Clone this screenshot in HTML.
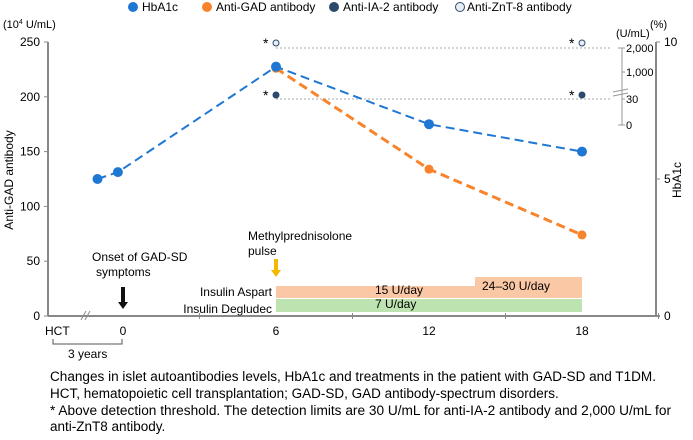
<!DOCTYPE html>
<html><head><meta charset="utf-8"><style>
body{margin:0;background:#fff;font-family:"Liberation Sans",sans-serif;}
svg text{font-family:"Liberation Sans",sans-serif;}
</style></head><body>
<svg width="693" height="435" xmlns="http://www.w3.org/2000/svg" id="c">
<g font-size="12">
 <circle cx="133" cy="7" r="5" fill="#1f77d4"/><text x="142" y="11">HbA1c</text>
 <circle cx="207" cy="7" r="5" fill="#f7842c"/><text x="216" y="11">Anti-GAD antibody</text>
 <circle cx="334" cy="7" r="5" fill="#2b4a6b"/><text x="343" y="11">Anti-IA-2 antibody</text>
 <circle cx="460" cy="7" r="4.5" fill="#e8ecf5" stroke="#2b4a6b"/><text x="467" y="11">Anti-ZnT-8 antibody</text>
</g>
<text x="3" y="28" font-size="11">(10<tspan font-size="7" dy="-4">4</tspan><tspan dy="4"> U/mL)</tspan></text>
<text x="650" y="28" font-size="11">(%)</text>
<text transform="translate(13,180) rotate(-90)" text-anchor="middle" font-size="12">Anti-GAD antibody</text>
<text transform="translate(681,180) rotate(-90)" text-anchor="middle" font-size="12">HbA1c</text>
<g id="axes"></g>
<g id="marks"></g>
<g font-size="13.5">
<text x="50" y="381" textLength="606" lengthAdjust="spacingAndGlyphs">Changes in islet autoantibodies levels, HbA1c and treatments in the patient with GAD-SD and T1DM.</text>
<text x="50" y="398">HCT, hematopoietic cell transplantation; GAD-SD, GAD antibody-spectrum disorders.</text>
<text x="50" y="415" textLength="621" lengthAdjust="spacingAndGlyphs">* Above detection threshold. The detection limits are 30 U/mL for anti-IA-2 antibody and 2,000 U/mL for</text>
<text x="50" y="431">anti-ZnT8 antibody.</text>
</g>
</svg>
<script>
const hbMonths=[-1,-0.2,6,12,18];
const hbValues=[5.0,5.25,9.1,7.0,6.0];
const gadMonths=[6,12,18];
const gadValues=[226,134,74];
const iaMonths=[6,18];
const znMonths=[6,18];
const leftTicks=[0,50,100,150,200,250];
const rightTicks=[0,5,10];
const xTicks=[0,6,12,18];
const smallTicks=[["0",0],["30",1],["1,000",2],["2,000",3]];
const NS="http://www.w3.org/2000/svg";
const X=m=>123+m*25.5, Y=v=>316-v*1.096, Y2=v=>316-v*27.4, YS=i=>125-[0,26,53,77][i];
function mk(p,tag,a){const e=document.createElementNS(NS,tag);for(const k in a)e.setAttribute(k,a[k]);p.appendChild(e);return e;}
const ax=document.getElementById('axes'), mg=document.getElementById('marks');
let e;
e=mk(ax,'line',{x1:48,y1:42,x2:48,y2:316,stroke:'#888','stroke-width':2});


e=mk(ax,'line',{x1:656,y1:42,x2:656,y2:316,stroke:'#888','stroke-width':2});


e=mk(ax,'line',{x1:48,y1:316,x2:660,y2:316,stroke:'#888','stroke-width':2});


mk(ax,'line',{x1:81,y1:320,x2:86,y2:311,stroke:'#888'});mk(ax,'line',{x1:85,y1:320,x2:90,y2:311,stroke:'#888'});
leftTicks.forEach(v=>{mk(ax,'line',{x1:44,y1:Y(v),x2:48,y2:Y(v),stroke:'#888'});
 e=mk(ax,'text',{x:40,y:Y(v)+4,'text-anchor':'end','font-size':12});e.textContent=v;
 
 });
rightTicks.forEach(v=>{mk(ax,'line',{x1:656,y1:Y2(v),x2:660,y2:Y2(v),stroke:'#888'});
 e=mk(ax,'text',{x:664,y:Y2(v)+4,'font-size':12});e.textContent=v;
 
 });
[3,9,15,21].forEach(m=>mk(ax,'line',{x1:X(m),y1:313,x2:X(m),y2:319,stroke:'#888'}));
xTicks.forEach(m=>{e=mk(ax,'text',{x:X(m),y:335,'text-anchor':'middle','font-size':12});e.textContent=m;
 
 });
e=mk(ax,'text',{x:45,y:335,'font-size':12});e.textContent='HCT';
mk(ax,'path',{d:'M53 339V344H122V339',fill:'none',stroke:'#555'});
e=mk(ax,'text',{x:68,y:358,'font-size':12});e.textContent='3 years';
mk(ax,'path',{d:'M618 48H622V125H618',fill:'none',stroke:'#999'});
mk(ax,'line',{x1:613,y1:92,x2:628,y2:89,stroke:'#999'});mk(ax,'line',{x1:613,y1:96,x2:628,y2:93,stroke:'#999'});
smallTicks.forEach(t=>{mk(ax,'line',{x1:622,y1:YS(t[1]),x2:625,y2:YS(t[1]),stroke:'#999'});
 e=mk(ax,'text',{x:626,y:YS(t[1])+4,'font-size':11});e.textContent=t[0];});
e=mk(ax,'text',{x:616,y:37,'font-size':11});e.textContent='(U/mL)';
mk(ax,'line',{x1:276,y1:48,x2:612,y2:48,stroke:'#aaa','stroke-dasharray':'2,2'});
mk(ax,'line',{x1:276,y1:99,x2:612,y2:99,stroke:'#aaa','stroke-dasharray':'2,2'});
e=mk(mg,'rect',{x:X(6),y:286,width:X(18)-X(6),height:12,fill:'#fbc8a6'});


e=mk(mg,'rect',{x:475,y:277,width:X(18)-475,height:21,fill:'#fbc8a6'});


e=mk(mg,'rect',{x:X(6),y:299,width:X(18)-X(6),height:13,fill:'#bde3b1'});


[['15 U/day',375,294],['24–30 U/day',482,290],['7 U/day',375,308]].forEach(t=>{e=mk(mg,'text',{x:t[1],y:t[2],'font-size':12});e.textContent=t[0];});
[['Insulin Aspart',272,296],['Insulin Degludec',272,313]].forEach(t=>{e=mk(mg,'text',{x:t[1],y:t[2],'font-size':12,'text-anchor':'end'});e.textContent=t[0];});
[['Methylprednisolone',248,240],['pulse',248,255],['Onset of GAD-SD',92,261],[' symptoms',96,276]].forEach(t=>{e=mk(mg,'text',{x:t[1],y:t[2],'font-size':12});e.textContent=t[0];});
mk(mg,'path',{d:'M274 259H278V270H281L276 277L271 270H274Z',fill:'#f5b800'});
mk(mg,'path',{d:'M121 287H125V302H128L123 309L118 302H121Z',fill:'#111'});
mk(mg,'polyline',{points:gadMonths.map((m,i)=>X(m)+','+Y(gadValues[i])).join(' '),fill:'none',stroke:'#f7842c','stroke-width':3,'stroke-dasharray':'9,5'});
mk(mg,'polyline',{points:hbMonths.map((m,i)=>X(m)+','+Y2(hbValues[i])).join(' '),fill:'none',stroke:'#1f77d4','stroke-width':2,'stroke-dasharray':'9,5'});
gadMonths.forEach((m,i)=>{e=mk(mg,'circle',{cx:X(m),cy:Y(gadValues[i]),r:4.5,fill:'#f7842c'});
 
 });
hbMonths.forEach((m,i)=>{e=mk(mg,'circle',{cx:X(m),cy:Y2(hbValues[i]),r:5,fill:'#1f77d4'});
 
 });
iaMonths.forEach(m=>{e=mk(mg,'circle',{cx:X(m),cy:95,r:3.5,fill:'#2b4a6b'});
 
 
 const s=mk(mg,'text',{x:X(m)-13,y:100,'font-size':14});s.textContent='*';});
znMonths.forEach(m=>{e=mk(mg,'circle',{cx:X(m),cy:43,r:3,fill:'#e8ecf5',stroke:'#2b4a6b'});
 
 
 const s=mk(mg,'text',{x:X(m)-13,y:48,'font-size':14});s.textContent='*';});
</script>
</body></html>
